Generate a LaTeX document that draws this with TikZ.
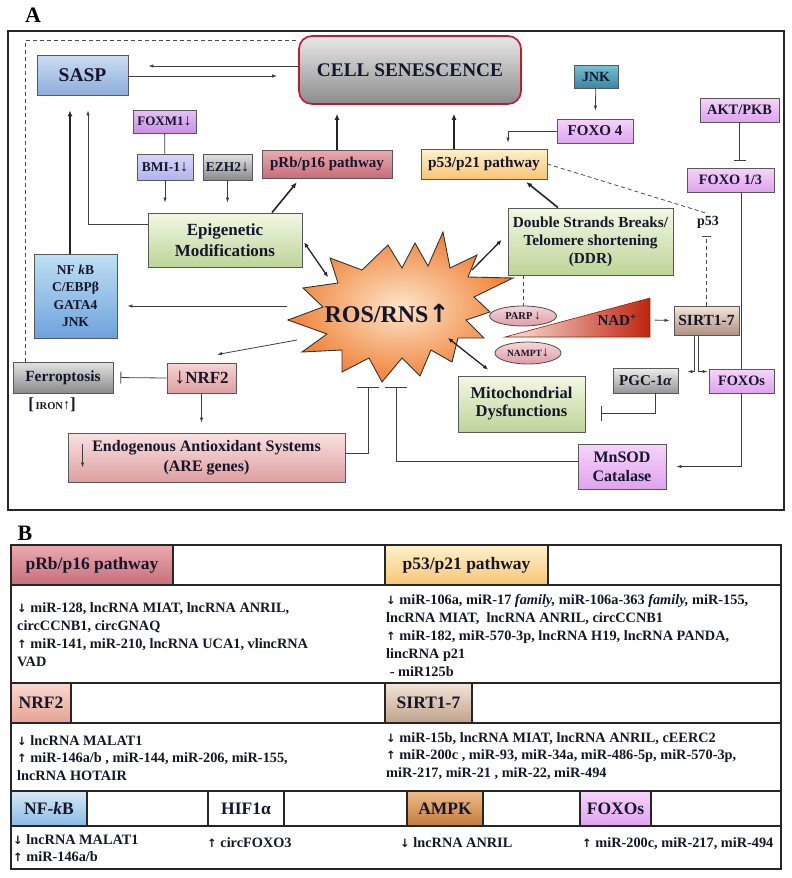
\documentclass[tikz,border=0pt]{standalone}
\usepackage{fontspec}
\setmainfont{Liberation Serif}
\newfontfamily\arrowfont{DejaVu Sans}
\usetikzlibrary{shapes,arrows.meta,positioning,calc}

\newcommand{\tdn}{{\arrowfont\bfseries\fontsize{11.5}{11}\selectfont ↓}\ }
\newcommand{\tup}{{\arrowfont\bfseries\fontsize{11.5}{11}\selectfont ↑}\ }
\newcommand{\bdn}[1]{{\fontsize{#1}{#1}\selectfont↓}}

\definecolor{ink}{HTML}{16162A}
\definecolor{csTop}{HTML}{E8E8E8}
\definecolor{csBot}{HTML}{8C8C8C}
\definecolor{csRed}{HTML}{C8162C}
\definecolor{blTop}{HTML}{CBDCF3}
\definecolor{blBot}{HTML}{8DADDB}
\definecolor{nfTop}{HTML}{BFE0F4}
\definecolor{nfBot}{HTML}{6EA2DC}
\definecolor{viTop}{HTML}{F5D4FB}
\definecolor{viBot}{HTML}{DFA3EE}
\definecolor{fmTop}{HTML}{E6C2F5}
\definecolor{fmBot}{HTML}{C98FE4}
\definecolor{bmTop}{HTML}{D6D6FA}
\definecolor{bmBot}{HTML}{B3B3EC}
\definecolor{gyTop}{HTML}{E2E2E2}
\definecolor{gyBot}{HTML}{8A8A8A}
\definecolor{rbTop}{HTML}{EBAAB1}
\definecolor{rbBot}{HTML}{C66E79}
\definecolor{grTop}{HTML}{F2F8E4}
\definecolor{grBot}{HTML}{BDD498}
\definecolor{nrTop}{HTML}{F7D3D3}
\definecolor{nrBot}{HTML}{DE9FA0}
\definecolor{jkTop}{HTML}{78C0D5}
\definecolor{jkBot}{HTML}{3887A3}
\definecolor{p5Top}{HTML}{FEF1CC}
\definecolor{p5Bot}{HTML}{F7C575}
\definecolor{siTop}{HTML}{F4E6DB}
\definecolor{siBot}{HTML}{B09080}
\definecolor{elTop}{HTML}{F6D6D9}
\definecolor{elBot}{HTML}{DC9DA6}
\definecolor{naL}{HTML}{FCE4E0}
\definecolor{naR}{HTML}{BE240C}
\definecolor{stIn}{HTML}{FDE5CB}
\definecolor{stOut}{HTML}{EF8237}
\definecolor{tnTop}{HTML}{F9D8D0}
\definecolor{tnBot}{HTML}{E5A294}
\definecolor{tsTop}{HTML}{F2E5D8}
\definecolor{tsBot}{HTML}{C0A28A}
\definecolor{tkTop}{HTML}{D5E9F7}
\definecolor{tkBot}{HTML}{89BAE5}
\definecolor{amTop}{HTML}{EFBC8C}
\definecolor{amBot}{HTML}{C27A3B}

\begin{document}
\begin{tikzpicture}[x=1pt,y=-1pt]

  \tikzset{main node/.style={rectangle, draw=black!65, line width=0.9pt,
  		text centered, align=center, inner sep=1pt, text=ink}, }
  \tikzset{boxsize/.style 2 args={minimum width=#1, minimum height=#2}, }
  \tikzset{fsize/.style 2 args={font=\bfseries\fontsize{#1}{#2}\selectfont}, }
  \tikzset{grad/.style 2 args={top color=#1, bottom color=#2}, }
  \tikzset{linea/.style={-{Latex[length=5pt,width=3.5pt]}, line width=0.8pt, draw=black!75}, }
  \tikzset{lineb/.style={-{Latex[length=6pt,width=5pt]}, line width=1.6pt, draw=black!85}, }
  \tikzset{lined/.style={{Latex[length=5pt,width=4.5pt]}-{Latex[length=5pt,width=4.5pt]}, line width=1.3pt, draw=black!85}, }
  \tikzset{linei/.style={-{Bar[width=#1]}, line width=0.8pt, draw=black!75}, linei/.default=12pt}
  \tikzset{linep/.style={line width=0.8pt, draw=black!75}, }
  \tikzset{lineq/.style={dash pattern=on 4pt off 3pt, line width=0.8pt, draw=black!70}, }
  \tikzset{tcell/.style={main node, line width=1.3pt, draw=black!85, fsize={17.5}{20}}, }
  \tikzset{ttext/.style={anchor=north west, align=left, inner sep=0pt, text=ink, fsize={14.3}{17.8}}, }

  \useasboundingbox (0,0) rectangle (792,878);
%
% panel A
  \node[fsize={22}{24}] (labA) at (33,15) {A};
  \draw[line width=1.3pt, black!85] (8,31) rectangle (784,510);

  \node[main node, boxsize={222}{68}, grad={csTop}{csBot}, draw=csRed, line width=1.6pt,
        rounded corners=13pt, fsize={19.3}{22}] (cs) at (410,70) {CELL SENESCENCE};
  \node[main node, boxsize={91}{40}, grad={blTop}{blBot}, fsize={19.5}{22}] (sasp) at (82.5,75) {SASP};
  \node[main node, boxsize={63}{23}, grad={fmTop}{fmBot}, fsize={13}{15}] (foxm) at (164.5,121.5) {FOXM1\bdn{16}};
  \node[main node, boxsize={56}{26}, grad={bmTop}{bmBot}, fsize={13.5}{15}] (bmi) at (165,167) {BMI-1\bdn{16}};
  \node[main node, boxsize={49}{26}, grad={gyTop}{gyBot}, fsize={13.5}{15}] (ezh) at (227.5,167) {EZH2\bdn{16}};
  \node[main node, boxsize={130}{28}, grad={rbTop}{rbBot}, fsize={15}{17}] (prb) at (327,164) {pRb/p16 pathway};
  \node[main node, boxsize={154}{54}, grad={grTop}{grBot}, fsize={17}{21}] (epi) at (225,240) {Epigenetic\\Modifications};
  \node[main node, boxsize={83}{84}, grad={nfTop}{nfBot}, fsize={13.5}{17.3}] (nfkb) at (75.5,296)
        {NF \textit{k}B\\C/EBPβ\\GATA4\\JNK};
  \node[main node, boxsize={100}{31}, grad={gyTop}{gyBot}, fsize={15.5}{17}] (ferro) at (63,377.5) {Ferroptosis};
  \node[text=ink, fsize={10.5}{12}, inner sep=0pt] (iron) at (52,405)
        {{\fontsize{17}{17}\selectfont[}\,IRON{\fontsize{14}{14}\selectfont↑}{\fontsize{17}{17}\selectfont]}};
  \node[main node, boxsize={69}{30}, grad={nrTop}{nrBot}, fsize={17}{19}] (nrf) at (201.5,378) {\bdn{22}NRF2};
  \node[main node, boxsize={277}{49}, grad={nrTop!70!white}{nrBot}, fsize={16}{20}] (endo) at (206.5,457.5)
        {Endogenous Antioxidant Systems\\(ARE genes)};
  \node[main node, boxsize={165}{67}, grad={grTop}{grBot}, fsize={15.3}{18}] (ddr) at (590.5,241.5)
        {Double Strands Breaks/\\Telomere shortening\\(DDR)};
  \node[main node, boxsize={126}{30}, grad={p5Top}{p5Bot}, fsize={15.3}{17}] (p53p21) at (484,164) {p53/p21 pathway};
  \node[main node, boxsize={44}{23}, grad={jkTop}{jkBot}, fsize={14}{16}] (jnk) at (596,76.5) {JNK};
  \node[main node, boxsize={76}{24}, grad={viTop}{viBot}, fsize={15}{17}] (foxo4) at (595,131) {FOXO 4};
  \node[main node, boxsize={79}{24}, grad={viTop}{viBot}, fsize={14.4}{16}] (akt) at (739.5,110) {AKT/PKB};
  \node[main node, boxsize={87}{24}, grad={viTop}{viBot}, fsize={14.3}{16}] (foxo13) at (730.5,180) {FOXO 1/3};
  \node[text=ink, inner sep=2pt, fsize={14}{16}] (p53lbl) at (708,222) {p53};
  \node[main node, boxsize={65}{29}, grad={siTop}{siBot}, fsize={15.5}{17}] (sirt) at (706.5,320.5) {SIRT1-7};
  \node[main node, boxsize={127}{56}, grad={grTop}{grBot}, fsize={16.5}{18}] (mito) at (521.5,404)
        {Mitochondrial\\Dysfunctions};
  \node[main node, boxsize={65}{25}, grad={gyTop!60!white}{gyBot!90!white}, fsize={15}{17}] (pgc) at (645.5,380.5)
        {PGC-1\textit{α}};
  \node[main node, boxsize={65}{24}, grad={viTop}{viBot}, fsize={14.3}{16}] (foxos) at (741.5,381) {FOXOs};
  \node[main node, boxsize={88}{45}, grad={viTop}{viBot}, fsize={16}{19}] (mnsod) at (622,466.5) {MnSOD\\Catalase};
%
% NAD+ wedge and ellipses
  \shadedraw[draw=naR!80!black, line width=0.6pt, left color=naL, right color=naR]
        (505,337) -- (650,337) -- (650,298) -- cycle;
  \coordinate (nad-e) at (650,320);
  \node[text=ink, fsize={15}{17}] (nad) at (617,320) {NAD\textsuperscript{+}};
  \node[ellipse, draw=black!70, line width=0.8pt, grad={elTop}{elBot}, minimum width=67, minimum height=20,
        inner sep=0pt, text=ink, fsize={10.5}{10}] (parp) at (523,316) {PARP\,\bdn{13}};
  \node[ellipse, draw=black!70, line width=0.8pt, grad={elTop}{elBot}, minimum width=66, minimum height=22,
        inner sep=0pt, text=ink, fsize={9.5}{10}] (nampt) at (528,353) {NAMPT\bdn{14}};
%
% ROS/RNS burst
  \shadedraw[draw=black!80, line width=0.9pt, inner color=stIn, outer color=stOut]
        (443,232) -- (450,268) -- (477,255) -- (468,277) -- (513,278) -- (474,297) -- (490,312)
        -- (466,320) -- (484,338) -- (458,338) -- (452,362) -- (431,350) -- (420,376) -- (402,358)
        -- (382,382) -- (369,358) -- (342,372) -- (342,350) -- (302,352) -- (327,334) -- (288,320)
        -- (323,307) -- (303,288) -- (338,283) -- (330,258) -- (362,270) -- (388,245) -- (402,268)
        -- (415,243) -- (428,266) -- cycle;
  \node[text=ink, fsize={24}{26}] (ros) at (387,313) {ROS/RNS{\arrowfont\bfseries\fontsize{25}{25}\selectfont ↑}};
  \coordinate (s-epi) at (328,277);
  \coordinate (s-nfkb) at (287,306);
  \coordinate (s-nrf) at (297,340);
  \coordinate (s-ddr) at (472,270);
  \coordinate (s-mito) at (448,338);
  \coordinate (s-inh1) at (368,387);
  \coordinate (s-inh2) at (396,387);
%
% connectors
  \draw[lineq] ([xshift=-38pt]ferro.north) |- ($(cs.north west)+(0,5)$);
  \draw[linea, shorten >=20pt] ($(cs.west)+(0,-4)$) -- ($(sasp.east)+(0,-9)$);
  \draw[linea, shorten >=21pt] ($(sasp.east)+(0,1)$) -- ($(cs.west)+(0,6)$);
  \draw[lineb, shorten >=9pt] ([xshift=10pt]prb.north) -- ([xshift=10pt]prb.north |- cs.south);
  \draw[lineb, shorten >=9pt] ([xshift=-30pt]p53p21.north) -- ([xshift=-30pt]p53p21.north |- cs.south);
  \draw[lineb, shorten >=5pt] ([xshift=47pt]epi.north) -- ([xshift=-27pt]prb.south);
  \draw[lineb, shorten >=4pt] ([xshift=-32.5pt]ddr.north) -- ([xshift=39pt]p53p21.south);
  \draw[linep] (foxm) -- (bmi);
  \foreach \x in {bmi,ezh}
    \draw[linea, shorten >=10pt] (\x.south) -- (\x.south |- epi.north);
  \draw[linea, shorten >=15pt] ($(epi.west)+(0,-16)$) -| ([xshift=5.5pt]sasp.south);
  \draw[lineb, shorten >=15pt] ([xshift=-5.5pt]nfkb.north) -- ([xshift=-12.5pt]sasp.south);
  \draw[linea, shorten >=8pt] (jnk) -- (foxo4);
  \draw[linea, shorten >=6pt] (foxo4.west) -| ([xshift=24pt]p53p21.north);
  \draw[linei, shorten >=7pt] (akt) -- (akt |- foxo13.north);
  \draw[lineq] (p53p21.east) -- (p53lbl.north);
  \draw[lineq, -{Bar[width=9pt]}, shorten >=6pt] (sirt.north) -- (sirt.north |- p53lbl.south);
  \draw[lineq] (parp.north |- ddr.south) -- (parp.north);
  \draw[linep] (foxo13.south -| foxos.north) -- (foxos.north);
  \draw[linea, shorten >=10pt] (foxos.south) |- (mnsod.east);
  \draw[linea, shorten <=5pt, shorten >=4pt] (nad-e) -- (sirt.west);
  \draw[linea] ([xshift=-12.5pt]sirt.south) |- ($(pgc.north east)+(9,4)$);
  \draw[linea] ([xshift=-8.5pt]sirt.south) |- ($(foxos.north west)+(-1,3)$);
  \draw[linei=15pt] ([xshift=9.5pt]pgc.south) |- ($(mito.east)+(16,9)$);
  \draw[lined, shorten <=3pt] (epi.east) -- (s-epi);
  \draw[linea, shorten >=10pt] (s-nfkb) -- (s-nfkb -| nfkb.east);
  \draw[linea] (s-nrf) -- ($(nrf.north)+(15.5,-8)$);
  \draw[linei, shorten >=7pt] (nrf.west) -- (ferro.east);
  \draw[linea, shorten >=10pt] (nrf.south) -- (nrf.south |- endo.north);
  \draw[linei=22pt] ($(endo.east)+(0,-4.5)$) -| (s-inh1);
  \draw[linei=22pt] ($(mnsod.west)+(0,-5.5)$) -| (s-inh2);
  \draw[lineb, -{Latex[length=5pt,width=4.5pt]}, line width=1.3pt] (s-ddr) -- ($(ddr.west)+(-6,-1.5)$);
  \draw[lined] (s-mito) -- ($(mito.north)+(-33.5,-6)$);
  \draw[linea] ($(endo.west)+(15,-14)$) -- ($(endo.west)+(15,10)$);
%
% panel B
  \node[fsize={22}{24}] (labB) at (25,533) {B};
  \node[tcell, boxsize={162}{40}, grad={rbTop}{rbBot}] (tprb) at (92,565) {pRb/p16 pathway};
  \node[tcell, boxsize={163}{40}, grad={p5Top}{p5Bot}] (tp53) at (466.5,565) {p53/p21 pathway};
  \node[tcell, boxsize={60}{40}, grad={tnTop}{tnBot}] (tnrf) at (41,703) {NRF2};
  \node[tcell, boxsize={87}{40}, grad={tsTop}{tsBot}] (tsirt) at (428.5,703) {SIRT1-7};
  \node[tcell, boxsize={76}{35}, grad={tkTop}{tkBot}] (tnfkb) at (49,808.5) {NF-\textit{k}B};
  \node[tcell, boxsize={76}{35}, fill=white] (thif) at (246,808.5) {HIF1α};
  \node[tcell, boxsize={76}{35}, grad={amTop}{amBot}] (tampk) at (445,808.5) {AMPK};
  \node[tcell, boxsize={71}{35}, grad={viTop}{viBot}] (tfoxos) at (615.5,808.5) {FOXOs};
  \draw[line width=1.5pt, black!85] (11,545) rectangle (781,869);
  \foreach \y in {585,683,723,791,826}
    \draw[line width=1.4pt, black!85] (11,\y) -- (781,\y);

  \node[ttext] (prbtxt) at (17,602.5)
    {\tdn miR-128, lncRNA MIAT, lncRNA ANRIL,\\circCCNB1, circGNAQ\\\tup miR-141, miR-210, lncRNA UCA1, vlincRNA\\VAD};
  \node[ttext, fsize={14.3}{18}] (p53txt) at (386,594.5)
    {\tdn miR-106a, miR-17 \textit{family,} miR-106a-363 \textit{family,} miR-155,\\lncRNA MIAT,\ \ lncRNA ANRIL, circCCNB1\\\tup miR-182, miR-570-3p, lncRNA H19, lncRNA PANDA,\\lincRNA p21\\\ - miR125b};
  \node[ttext] (nrftxt) at (17,735)
    {\tdn lncRNA MALAT1\\\tup miR-146a/b , miR-144, miR-206, miR-155,\\lncRNA HOTAIR};
  \node[ttext] (sirttxt) at (386,732)
    {\tdn miR-15b, lncRNA MIAT, lncRNA ANRIL, cEERC2\\\tup miR-200c , miR-93, miR-34a, miR-486-5p, miR-570-3p,\\miR-217, miR-21 , miR-22, miR-494};
  \node[ttext, fsize={14.3}{17}] (nfkbtxt) at (13,834) {\tdn lncRNA MALAT1\\\tup miR-146a/b};
  \node[ttext] (hiftxt) at (207,837) {\tup circFOXO3};
  \node[ttext] (ampktxt) at (400,837) {\tdn lncRNA ANRIL};
  \node[ttext] (foxostxt) at (582,837) {\tup miR-200c, miR-217, miR-494};
%
\end{tikzpicture}
\end{document}
